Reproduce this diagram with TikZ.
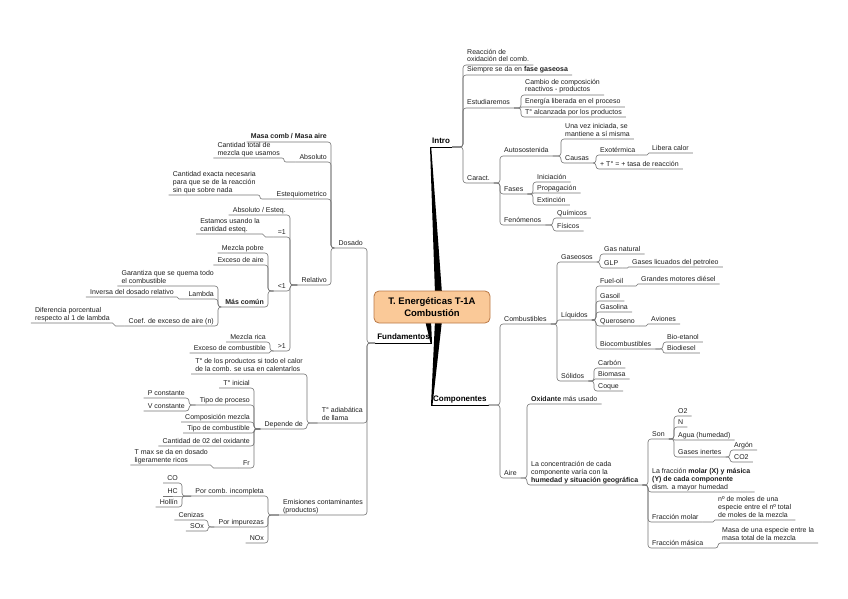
\documentclass[tikz,border=0pt]{standalone}
\usepackage{fontspec}
\setmainfont{Liberation Sans}
\usetikzlibrary{calc,backgrounds}
\definecolor{lnc}{RGB}{115,115,115}
\definecolor{txc}{RGB}{30,30,30}
\definecolor{rootfill}{RGB}{250,201,152}
\definecolor{rootdraw}{RGB}{185,120,70}
\newcommand\cR[2]{\draw[cn] let \p1=(#1.south east), \p2=(#2.south west), \n1={min(3pt,abs(\y2-\y1)/2,abs(\x2-\x1))} in [rounded corners=\n1] (\p1) -| (\p2) -- (#2.south east);}
\newcommand\cL[2]{\draw[cn] let \p1=(#1.south west), \p2=(#2.south east), \n1={min(3pt,abs(\y2-\y1)/2,abs(\x2-\x1))} in [rounded corners=\n1] (\p1) -| (\p2) -- (#2.south west);}
\tikzset{
 t/.style={font=\fontsize{7}{7.8}\selectfont, text=txc, inner xsep=4pt, inner ysep=1.3pt, text depth=1.5pt, align=left},
 R/.style={t, anchor=south west},
 L/.style={t, anchor=south east},
 cn/.style={draw=lnc, line width=0.6pt},
 mainn/.style={font=\fontsize{8}{9}\selectfont\bfseries, text=black, inner xsep=2pt, inner ysep=1.5pt, text depth=1.5pt},
 mainul/.style={draw=black, line width=0.8pt},
 rootn/.style={draw=rootdraw, fill=rootfill, rounded corners=5pt, minimum width=116pt, minimum height=32pt, align=center, font=\fontsize{9.5}{11.5}\selectfont\bfseries, line width=0.8pt, text=black}
}
\begin{document}
\begin{tikzpicture}[x=1pt,y=-1pt]
\useasboundingbox (0,0) rectangle (848,599);
% root
\node[rootn] (root) at (432,307) {T. Energéticas T-1A\\Combustión};
% main topics
\node[mainn, anchor=south west] (intro) at (430,147) {Intro};
\node[mainn, anchor=south west] (comp) at (431,405) {Componentes};
\node[mainn, anchor=south east] (fund) at (432,343) {Fundamentos};
\draw[mainul] (intro.south west) -- (intro.south east);
\draw[mainul] (comp.south west) -- (comp.south east);
\draw[mainul] (fund.south west) -- (fund.south east);
\begin{pgfonlayer}{background}
\fill[black] (intro.south west) -- ([xshift=1.2pt]intro.south west) -- ([xshift=10pt,yshift=-3pt]root.north) -- ([xshift=3pt,yshift=-3pt]root.north) -- cycle;
\fill[black] ([xshift=3pt,yshift=3pt]root.south) -- ([xshift=10pt,yshift=3pt]root.south) -- ([xshift=1.5pt]comp.south west) -- (comp.south west) -- cycle;
\fill[black] ([xshift=-7pt,yshift=3pt]root.south) -- ([xshift=-1pt,yshift=3pt]root.south) -- (fund.south east) -- ([xshift=-1.5pt]fund.south east) -- cycle;
\end{pgfonlayer}
% ---------- Intro
\node[R] (reac) at (463,65) {Reacción de\\oxidación del comb.};
\node[R] (siem) at (463,75) {Siempre se da en \textbf{fase gaseosa}};
\node[R] (estu) at (463,108) {Estudiaremos};
\node[R] (cara) at (463,183) {Caract.};
\node[R] (camb) at (521,95) {Cambio de composición\\reactivos - productos};
\node[R] (ener) at (521,107) {Energía liberada en el proceso};
\node[R] (talc) at (521,117) {T° alcanzada por los productos};
\node[R] (auto) at (500,156) {Autosostenida};
\node[R] (fase) at (500,194) {Fases};
\node[R] (feno) at (500,225) {Fenómenos};
\node[R] (unav) at (561,139) {Una vez iniciada, se\\mantiene a sí misma};
\node[R] (caus) at (561,163) {Causas};
\node[R] (exot) at (596,155) {Exotérmica};
\node[R] (tasa) at (596,169) {+ T° = + tasa de reacción};
\node[R] (libe) at (648,153) {Libera calor};
\node[R] (inic) at (533,182) {Iniciación};
\node[R] (prop) at (533,193) {Propagación};
\node[R] (exti) at (533,205) {Extinción};
\node[R] (quim) at (553,218) {Químicos};
\node[R] (fisi) at (553,231) {Físicos};
\cR{intro}{reac}\cR{intro}{siem}\cR{intro}{estu}\cR{intro}{cara}
\cR{estu}{camb}\cR{estu}{ener}\cR{estu}{talc}
\cR{cara}{auto}\cR{cara}{fase}\cR{cara}{feno}
\cR{auto}{unav}\cR{auto}{caus}
\cR{caus}{exot}\cR{caus}{tasa}\cR{exot}{libe}
\cR{fase}{inic}\cR{fase}{prop}\cR{fase}{exti}
\cR{feno}{quim}\cR{feno}{fisi}
% ---------- Componentes
\node[R] (comb) at (500,324) {Combustibles};
\node[R] (aire) at (500,478) {Aire};
\node[R] (gase) at (557,262) {Gaseosos};
\node[R] (liqu) at (557,320) {Líquidos};
\node[R] (soli) at (557,381) {Sólidos};
\node[R] (gasn) at (600,254) {Gas natural};
\node[R] (glp) at (600,268) {GLP};
\node[R] (glpc) at (628,267) {Gases licuados del petroleo};
\node[R] (fuel) at (596,286) {Fuel-oil};
\node[R] (gsol) at (596,301) {Gasoil};
\node[R] (gsna) at (596,312) {Gasolina};
\node[R] (quer) at (596,326) {Queroseno};
\node[R] (bioc) at (596,349) {Biocombustibles};
\node[R] (gran) at (637,284) {Grandes motores diésel};
\node[R] (avio) at (647,324) {Aviones};
\node[R] (etan) at (663,342) {Bio-etanol};
\node[R] (biod) at (663,353) {Biodiesel};
\node[R] (carb) at (594,368) {Carbón};
\node[R] (biom) at (594,379) {Biomasa};
\node[R] (coqu) at (594,391) {Coque};
\node[R] (oxid) at (527,404) {\textbf{Oxidante} más usado};
\node[R] (conc) at (527,485) {La concentración de cada\\componente varía con la\\\textbf{humedad y situación geográfica}};
\node[R] (son) at (648,439) {Son};
\node[R] (frac) at (648,492) {La fracción \textbf{molar (X) y másica}\\\textbf{(Y) de cada componente}\\dism. a mayor humedad};
\node[R] (fmol) at (648,522) {Fracción molar};
\node[R] (fmas) at (648,548) {Fracción másica};
\node[R] (o2) at (674,416) {O2};
\node[R] (nn) at (674,427) {N};
\node[R] (agua) at (674,440) {Agua (humedad)};
\node[R] (gine) at (674,457) {Gases inertes};
\node[R] (argo) at (730,450) {Argón};
\node[R] (co2) at (730,462) {CO2};
\node[R] (nmol) at (714,520) {nº de moles de una\\especie entre el nº total\\de moles de la mezcla};
\node[R] (masa) at (718,543) {Masa de una especie entre la\\masa total de la mezcla};
\cR{comp}{comb}\cR{comp}{aire}
\cR{comb}{gase}\cR{comb}{liqu}\cR{comb}{soli}
\cR{gase}{gasn}\cR{gase}{glp}\cR{glp}{glpc}
\cR{liqu}{fuel}\cR{liqu}{gsol}\cR{liqu}{gsna}\cR{liqu}{quer}\cR{liqu}{bioc}
\cR{fuel}{gran}\cR{quer}{avio}\cR{bioc}{etan}\cR{bioc}{biod}
\cR{soli}{carb}\cR{soli}{biom}\cR{soli}{coqu}
\cR{aire}{oxid}\cR{aire}{conc}
\cR{conc}{son}\cR{conc}{frac}\cR{conc}{fmol}\cR{conc}{fmas}
\cR{son}{o2}\cR{son}{nn}\cR{son}{agua}\cR{son}{gine}
\cR{gine}{argo}\cR{gine}{co2}
\cR{fmol}{nmol}\cR{fmas}{masa}
% ---------- Fundamentos
\node[L] (dosa) at (367,248) {Dosado};
\node[L] (tadi) at (367,423) {T° adiabática\\de llama};
\node[L] (emis) at (367,515) {Emisiones contaminantes\\(productos)};
\node[L] (masc) at (331,142) {\textbf{Masa comb / Masa aire}};
\node[L] (abso) at (331,162) {Absoluto};
\node[L] (este) at (331,199) {Estequiometrico};
\node[L] (rela) at (331,285) {Relativo};
\node[L] (cant) at (284,158) {Cantidad total de\\mezcla que usamos};
\node[L] (cane) at (260,195) {Cantidad exacta necesaria\\para que se de la reacción\\sin que sobre nada};
\node[L] (abes) at (290,215) {Absoluto / Esteq.};
\node[L] (eq1) at (290,237) {=1};
\node[L] (lt1) at (290,291) {<1};
\node[L] (gt1) at (290,351) {>1};
\node[L] (esta) at (264,234) {Estamos usando la\\cantidad esteq.};
\node[L] (mpob) at (268,253) {Mezcla pobre};
\node[L] (exai) at (268,265) {Exceso de aire};
\node[L] (masco) at (268,307) {\textbf{Más común}};
\node[L] (gara) at (218,286) {Garantiza que se quema todo\\el combustible};
\node[L] (lamb) at (218,299) {Lambda};
\node[L] (coef) at (218,326) {Coef. de exceso de aire (n)};
\node[L] (inve) at (178,297) {Inversa del dosado relativo};
\node[L] (dife) at (114,323) {Diferencia porcentual\\respecto al 1 de lambda};
\node[L] (mric) at (270,342) {Mezcla rica};
\node[L] (exco) at (270,353) {Exceso de combustible};
\node[L] (tpro) at (307,374) {T° de los productos si todo el calor\\de la comb. se usa en calentarlos};
\node[L] (depe) at (307,429) {Depende de};
\node[L] (tini) at (254,388) {T° inicial};
\node[L] (tprc) at (254,405) {Tipo de proceso};
\node[L] (comm) at (254,422) {Composición mezcla};
\node[L] (tcom) at (254,433) {Tipo de combustible};
\node[L] (ca02) at (254,446) {Cantidad de 02 del oxidante};
\node[L] (fr) at (254,468) {Fr};
\node[L] (pcon) at (189,398) {P constante};
\node[L] (vcon) at (189,411) {V constante};
\node[L] (tmax) at (212,465) {T max se da en dosado\\ligeramente ricos};
\node[L] (porc) at (268,496) {Por comb. incompleta};
\node[L] (pori) at (268,527) {Por impurezas};
\node[L] (nox) at (268,543) {NOx};
\node[L] (co) at (182,483) {CO};
\node[L] (hc) at (182,496) {HC};
\node[L] (holl) at (182,507) {Hollín};
\node[L] (ceni) at (208,520) {Cenizas};
\node[L] (sox) at (208,531) {SOx};
\cL{fund}{dosa}\cL{fund}{tadi}\cL{fund}{emis}
\cL{dosa}{masc}\cL{dosa}{abso}\cL{dosa}{este}\cL{dosa}{rela}
\cL{abso}{cant}\cL{este}{cane}
\cL{rela}{abes}\cL{rela}{eq1}\cL{rela}{lt1}\cL{rela}{gt1}
\cL{eq1}{esta}
\cL{lt1}{mpob}\cL{lt1}{exai}\cL{lt1}{masco}
\cL{masco}{gara}\cL{masco}{lamb}\cL{masco}{coef}
\cL{lamb}{inve}\cL{coef}{dife}
\cL{gt1}{mric}\cL{gt1}{exco}
\cL{tadi}{tpro}\cL{tadi}{depe}
\cL{depe}{tini}\cL{depe}{tprc}\cL{depe}{comm}\cL{depe}{tcom}\cL{depe}{ca02}\cL{depe}{fr}
\cL{tprc}{pcon}\cL{tprc}{vcon}\cL{fr}{tmax}
\cL{emis}{porc}\cL{emis}{pori}\cL{emis}{nox}
\cL{porc}{co}\cL{porc}{hc}\cL{porc}{holl}
\cL{pori}{ceni}\cL{pori}{sox}
\end{tikzpicture}
\end{document}
